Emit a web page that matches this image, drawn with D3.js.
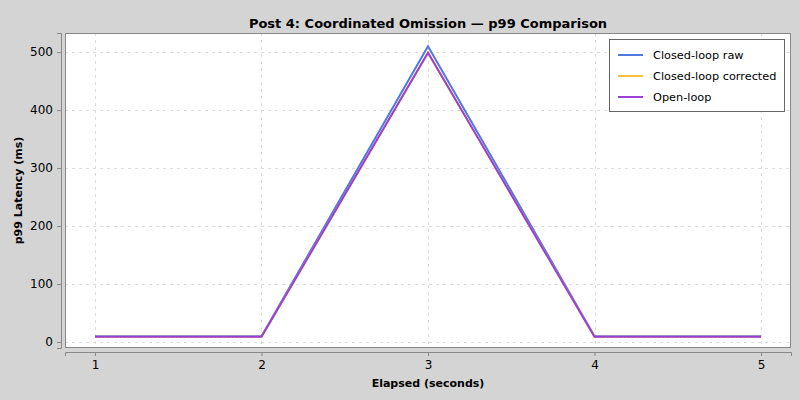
<!DOCTYPE html>
<html>
<head>
<meta charset="utf-8">
<script src="https://cdn.jsdelivr.net/npm/d3@7"></script>
<style>
  body { margin: 0; background: #d4d4d4; }
  svg { display: block; }
  text { font-family: "DejaVu Sans", sans-serif; fill: #000; }
</style>
</head>
<body>
<svg id="chart" width="800" height="400"></svg>
<script>
// data
var elapsed = [1, 2, 3, 4, 5];
var closedRaw = [10, 10, 510, 10, 10];
var closedCorrected = [9, 9, 499, 9, 9];
var openLoop = [9, 9, 499, 9, 9];
var seriesNames = ["Closed-loop raw", "Closed-loop corrected", "Open-loop"];
var seriesColors = ["#4f78e0", "#f8c23c", "#9a40d6"];
var yTicks = [0, 100, 200, 300, 400, 500];

var svg = d3.select("#chart");
var plot = { left: 65, top: 33, right: 791, bottom: 348 };

var x = d3.scaleLinear().domain([0.82, 5.18]).range([plot.left, plot.right]);
var y = d3.scaleLinear().domain([-10.3, 533]).range([plot.bottom, plot.top]);

svg.append("rect")
    .attr("x", plot.left).attr("y", plot.top)
    .attr("width", plot.right - plot.left).attr("height", plot.bottom - plot.top)
    .attr("fill", "#fff");

// gridlines
var grid = svg.append("g").attr("stroke", "#dcdcdc").attr("stroke-dasharray", "3,4").attr("stroke-width", 1);
grid.selectAll("line.gx").data(elapsed).enter().append("line")
    .attr("x1", function (d) { return Math.round(x(d)) + 0.5; })
    .attr("x2", function (d) { return Math.round(x(d)) + 0.5; })
    .attr("y1", plot.top).attr("y2", plot.bottom);
grid.selectAll("line.gy").data(yTicks).enter().append("line")
    .attr("y1", function (d) { return Math.round(y(d)) + 0.5; })
    .attr("y2", function (d) { return Math.round(y(d)) + 0.5; })
    .attr("x1", plot.left).attr("x2", plot.right);

svg.append("rect")
    .attr("x", plot.left + 0.5).attr("y", plot.top + 0.5)
    .attr("width", plot.right - plot.left - 1).attr("height", plot.bottom - plot.top - 1)
    .attr("fill", "none").attr("stroke", "#888");

// axes, offset from plot like the original
var xAxis = svg.append("g").attr("transform", "translate(0," + (plot.bottom + 4) + ")")
    .call(d3.axisBottom(x).tickValues(elapsed).tickFormat(d3.format("d")).tickSize(4).tickPadding(4));
var yAxis = svg.append("g").attr("transform", "translate(" + (plot.left - 4) + ",0)")
    .call(d3.axisLeft(y).tickValues(yTicks).tickSize(4).tickPadding(4));
[xAxis, yAxis].forEach(function (a) {
  a.select(".domain").attr("stroke", "#888");
  a.selectAll(".tick line").attr("stroke", "#888");
  a.selectAll(".tick text").attr("font-size", "12px").attr("font-family", "DejaVu Sans, sans-serif").attr("fill", "#111");
});

// series lines
var line = d3.line()
    .x(function (d, i) { return x(elapsed[i]); })
    .y(function (d) { return y(d); });
[closedRaw, closedCorrected, openLoop].forEach(function (s, i) {
  svg.append("path")
      .datum(s)
      .attr("d", line)
      .attr("fill", "none")
      .attr("stroke", seriesColors[i])
      .attr("stroke-width", 2);
});

// titles
svg.append("text")
    .attr("x", (plot.left + plot.right) / 2).attr("y", 28)
    .attr("text-anchor", "middle")
    .attr("font-size", "13px").attr("font-weight", "bold")
    .text("Post 4: Coordinated Omission \u2014 p99 Comparison");
svg.append("text")
    .attr("x", (plot.left + plot.right) / 2).attr("y", 387)
    .attr("text-anchor", "middle")
    .attr("font-size", "11px").attr("font-weight", "bold")
    .text("Elapsed (seconds)");
svg.append("text")
    .attr("transform", "translate(22," + ((plot.top + plot.bottom) / 2) + ") rotate(-90)")
    .attr("text-anchor", "middle")
    .attr("font-size", "11px").attr("font-weight", "bold")
    .text("p99 Latency (ms)");

// legend
var legend = svg.append("g").attr("transform", "translate(609,39)");
legend.append("rect")
    .attr("x", 0.5).attr("y", 0.5).attr("width", 175).attr("height", 72)
    .attr("fill", "#fff").attr("stroke", "#666");
var items = legend.selectAll("g.item").data(seriesNames).enter().append("g")
    .attr("transform", function (d, i) { return "translate(0," + (16 + i * 21) + ")"; });
items.append("line")
    .attr("x1", 9).attr("x2", 34).attr("y1", 0).attr("y2", 0)
    .attr("stroke", function (d, i) { return seriesColors[i]; })
    .attr("stroke-width", 2);
items.append("text")
    .attr("x", 44).attr("y", 4)
    .attr("font-size", "11.3px")
    .text(function (d) { return d; });
</script>
</body>
</html>
